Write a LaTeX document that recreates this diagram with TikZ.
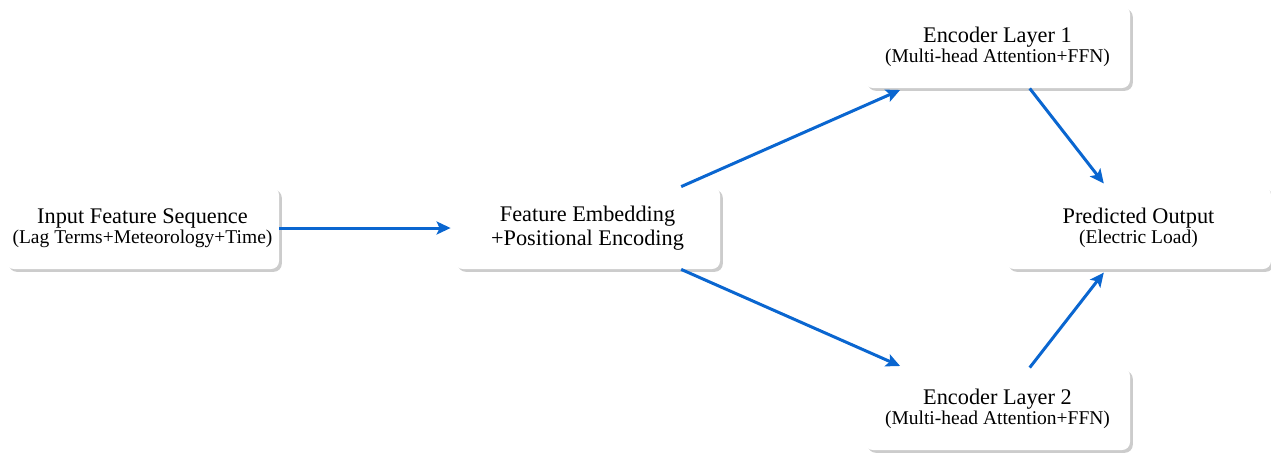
\documentclass[tikz,border=0pt]{standalone}
\usepackage{fontspec}
\setmainfont{Liberation Serif}
\usetikzlibrary{arrows.meta,shadows}
\definecolor{arrblue}{RGB}{10,102,208}
\newcommand{\subsz}{\fontsize{9.75pt}{10pt}\selectfont}
\begin{document}
\begin{tikzpicture}[x=0.5pt,y=-0.5pt,
  box/.style={rectangle, rounded corners=4pt, fill=white, draw=none,
    minimum width=132.5pt, minimum height=41pt, inner xsep=3.3pt, align=center,
    font=\fontsize{11.15pt}{10pt}\selectfont,
    drop shadow={shadow xshift=1.4pt, shadow yshift=-1.4pt, fill=black!20, opacity=1}},
  conn/.style={draw=arrblue, line width=1.5pt, -{Stealth[length=7pt,width=6.5pt,inset=1.5pt]}, shorten >=2pt}]
\useasboundingbox (0,0) rectangle (1271,452);
\node[box] (inp) at (142.5,228) {Input Feature Sequence\\{\subsz (Lag Terms+Meteorology+Time)}};
\node[box, font=\fontsize{11.15pt}{12pt}\selectfont] (feat) at (587.5,228) {Feature Embedding\\+Positional Encoding};
\node[box] (enc1) at (997.5,47) {Encoder Layer 1\\{\subsz (Multi-head Attention+FFN)}};
\node[box] (enc2) at (997.5,409) {Encoder Layer 2\\{\subsz (Multi-head Attention+FFN)}};
\node[box] (out) at (1138.5,228) {Predicted Output\\{\subsz (Electric Load)}};
\draw[conn] (inp) -- (feat);
\draw[conn] (feat) -- (enc1);
\draw[conn] (feat) -- (enc2);
\draw[conn] (enc1) -- (out);
\draw[conn] (enc2) -- (out);
\end{tikzpicture}
\end{document}
